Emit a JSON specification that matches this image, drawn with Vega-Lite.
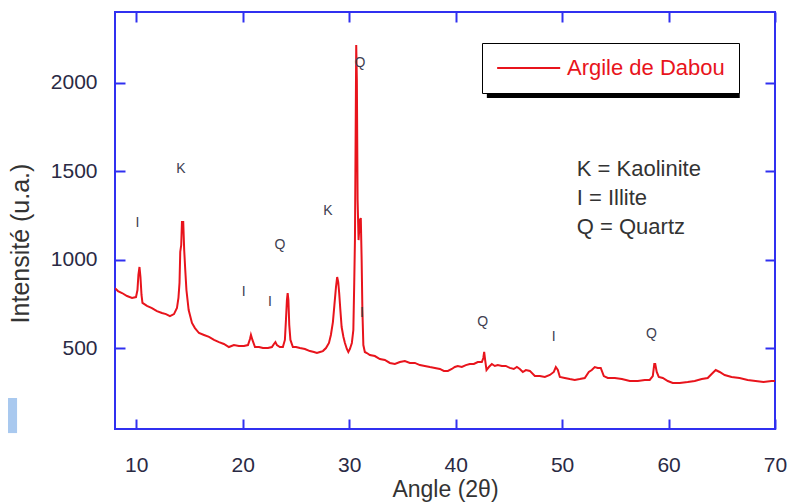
{
  "$schema": "https://vega.github.io/schema/vega-lite/v6.json",
  "autosize": "none",
  "width": 660,
  "height": 417,
  "padding": {"left": 115, "top": 12, "right": 14, "bottom": 75},
  "background": "white",
  "config": {
    "view": {"stroke": "#3030f0", "strokeWidth": 2},
    "font": "Liberation Sans",
    "axis": {
      "grid": false,
      "ticks": true,
      "domain": false,
      "offset": -10,
      "tickColor": "#3030f0",
      "tickWidth": 2,
      "tickSize": 10,
      "zindex": 1,
      "labelFont": "Liberation Sans",
      "labelFontSize": 21,
      "labelColor": "#2a2a44",
      "titleFont": "Liberation Sans",
      "titleFontSize": 23,
      "titleFontWeight": "normal",
      "titleColor": "#333333"
    }
  },
  "datasets": {
    "xrd": [
      {"a": 8.0, "i": 840}, {"a": 8.28, "i": 824}, {"a": 8.66, "i": 813}, {"a": 9.13, "i": 796},
      {"a": 9.6, "i": 785}, {"a": 9.97, "i": 790}, {"a": 10.11, "i": 830}, {"a": 10.2, "i": 915},
      {"a": 10.3, "i": 960}, {"a": 10.39, "i": 905}, {"a": 10.49, "i": 802}, {"a": 10.58, "i": 757},
      {"a": 11.0, "i": 740}, {"a": 11.47, "i": 728}, {"a": 11.94, "i": 711}, {"a": 12.41, "i": 700},
      {"a": 12.79, "i": 694}, {"a": 13.16, "i": 683}, {"a": 13.54, "i": 694}, {"a": 13.82, "i": 728},
      {"a": 13.96, "i": 785}, {"a": 14.06, "i": 870}, {"a": 14.13, "i": 1045}, {"a": 14.22, "i": 1084},
      {"a": 14.29, "i": 1214}, {"a": 14.41, "i": 1214}, {"a": 14.5, "i": 1056}, {"a": 14.6, "i": 943},
      {"a": 14.71, "i": 830}, {"a": 14.92, "i": 717}, {"a": 15.23, "i": 644}, {"a": 15.51, "i": 615},
      {"a": 15.89, "i": 587}, {"a": 16.36, "i": 576}, {"a": 16.83, "i": 565}, {"a": 17.3, "i": 548},
      {"a": 17.77, "i": 536}, {"a": 18.23, "i": 525}, {"a": 18.7, "i": 508}, {"a": 19.17, "i": 519},
      {"a": 19.64, "i": 514}, {"a": 20.11, "i": 514}, {"a": 20.49, "i": 519}, {"a": 20.68, "i": 553},
      {"a": 20.77, "i": 576}, {"a": 20.91, "i": 548}, {"a": 21.15, "i": 508}, {"a": 21.52, "i": 508},
      {"a": 21.9, "i": 502}, {"a": 22.37, "i": 502}, {"a": 22.74, "i": 508}, {"a": 22.93, "i": 525},
      {"a": 23.07, "i": 536}, {"a": 23.21, "i": 519}, {"a": 23.49, "i": 508}, {"a": 23.77, "i": 508},
      {"a": 23.96, "i": 548}, {"a": 24.06, "i": 661}, {"a": 24.15, "i": 773}, {"a": 24.22, "i": 813},
      {"a": 24.29, "i": 773}, {"a": 24.37, "i": 632}, {"a": 24.48, "i": 548}, {"a": 24.71, "i": 508},
      {"a": 25.0, "i": 508}, {"a": 25.37, "i": 502}, {"a": 25.84, "i": 497}, {"a": 26.31, "i": 485},
      {"a": 26.69, "i": 480}, {"a": 26.97, "i": 474}, {"a": 27.25, "i": 480}, {"a": 27.53, "i": 485},
      {"a": 27.82, "i": 502}, {"a": 28.1, "i": 531}, {"a": 28.28, "i": 576}, {"a": 28.47, "i": 649},
      {"a": 28.61, "i": 745}, {"a": 28.76, "i": 847}, {"a": 28.87, "i": 903}, {"a": 28.97, "i": 875},
      {"a": 29.06, "i": 813}, {"a": 29.17, "i": 717}, {"a": 29.29, "i": 621}, {"a": 29.46, "i": 565},
      {"a": 29.6, "i": 531}, {"a": 29.78, "i": 497}, {"a": 29.92, "i": 480}, {"a": 30.07, "i": 497},
      {"a": 30.25, "i": 531}, {"a": 30.39, "i": 604}, {"a": 30.47, "i": 858}, {"a": 30.54, "i": 1112},
      {"a": 30.59, "i": 1564}, {"a": 30.66, "i": 2213}, {"a": 30.72, "i": 2016}, {"a": 30.79, "i": 1338},
      {"a": 30.88, "i": 1112}, {"a": 31.0, "i": 1225}, {"a": 31.09, "i": 1236}, {"a": 31.17, "i": 1000},
      {"a": 31.24, "i": 717}, {"a": 31.33, "i": 519}, {"a": 31.47, "i": 480}, {"a": 31.66, "i": 474},
      {"a": 31.94, "i": 463}, {"a": 32.41, "i": 457}, {"a": 32.88, "i": 440}, {"a": 33.35, "i": 435},
      {"a": 33.82, "i": 418}, {"a": 34.29, "i": 412}, {"a": 34.76, "i": 423}, {"a": 35.23, "i": 429},
      {"a": 35.7, "i": 418}, {"a": 36.17, "i": 418}, {"a": 36.64, "i": 406}, {"a": 37.1, "i": 401},
      {"a": 37.58, "i": 395}, {"a": 38.05, "i": 390}, {"a": 38.52, "i": 384}, {"a": 38.89, "i": 373},
      {"a": 39.27, "i": 373}, {"a": 39.64, "i": 384}, {"a": 39.92, "i": 395}, {"a": 40.2, "i": 401},
      {"a": 40.58, "i": 395}, {"a": 40.96, "i": 406}, {"a": 41.33, "i": 412}, {"a": 41.71, "i": 412},
      {"a": 42.08, "i": 423}, {"a": 42.46, "i": 423}, {"a": 42.6, "i": 446}, {"a": 42.68, "i": 480},
      {"a": 42.77, "i": 435}, {"a": 42.9, "i": 378}, {"a": 43.12, "i": 395}, {"a": 43.4, "i": 412},
      {"a": 43.68, "i": 401}, {"a": 43.96, "i": 406}, {"a": 44.34, "i": 401}, {"a": 44.71, "i": 401},
      {"a": 45.09, "i": 390}, {"a": 45.46, "i": 384}, {"a": 45.75, "i": 395}, {"a": 46.03, "i": 384},
      {"a": 46.31, "i": 367}, {"a": 46.6, "i": 378}, {"a": 46.97, "i": 373}, {"a": 47.44, "i": 344},
      {"a": 47.91, "i": 344}, {"a": 48.38, "i": 339}, {"a": 48.85, "i": 350}, {"a": 49.22, "i": 367},
      {"a": 49.41, "i": 395}, {"a": 49.6, "i": 378}, {"a": 49.79, "i": 339}, {"a": 50.25, "i": 333},
      {"a": 50.72, "i": 327}, {"a": 51.19, "i": 322}, {"a": 51.66, "i": 327}, {"a": 52.13, "i": 333},
      {"a": 52.51, "i": 367}, {"a": 52.79, "i": 378}, {"a": 53.07, "i": 395}, {"a": 53.35, "i": 390},
      {"a": 53.63, "i": 390}, {"a": 53.92, "i": 344}, {"a": 54.29, "i": 333}, {"a": 54.95, "i": 333},
      {"a": 55.61, "i": 327}, {"a": 56.36, "i": 316}, {"a": 57.11, "i": 316}, {"a": 57.77, "i": 322},
      {"a": 58.23, "i": 322}, {"a": 58.52, "i": 344}, {"a": 58.66, "i": 412}, {"a": 58.75, "i": 412},
      {"a": 58.89, "i": 367}, {"a": 59.08, "i": 339}, {"a": 59.46, "i": 333}, {"a": 59.93, "i": 316},
      {"a": 60.39, "i": 305}, {"a": 61.05, "i": 305}, {"a": 61.8, "i": 310}, {"a": 62.46, "i": 316},
      {"a": 63.12, "i": 327}, {"a": 63.68, "i": 333}, {"a": 64.05, "i": 356}, {"a": 64.43, "i": 378},
      {"a": 64.8, "i": 367}, {"a": 65.27, "i": 350}, {"a": 65.92, "i": 339}, {"a": 66.67, "i": 333},
      {"a": 67.43, "i": 322}, {"a": 68.17, "i": 316}, {"a": 68.92, "i": 310}, {"a": 69.67, "i": 316},
      {"a": 70.0, "i": 316}
    ],
    "peaks": [
      {"a": 10.1, "i": 1208, "t": "I"},
      {"a": 14.2, "i": 1513, "t": "K"},
      {"a": 31.0, "i": 2112, "t": "Q"},
      {"a": 28.0, "i": 1276, "t": "K"},
      {"a": 23.5, "i": 1084, "t": "Q"},
      {"a": 20.1, "i": 819, "t": "I"},
      {"a": 22.55, "i": 762, "t": "I"},
      {"a": 31.2, "i": 700, "t": "I"},
      {"a": 42.55, "i": 649, "t": "Q"},
      {"a": 49.2, "i": 565, "t": "I"},
      {"a": 58.4, "i": 581, "t": "Q"}
    ],
    "key": [
      {"a": 51.38, "i": 1513, "t": "K = Kaolinite"},
      {"a": 51.38, "i": 1349, "t": "I = Illite"},
      {"a": 51.38, "i": 1185, "t": "Q = Quartz"}
    ],
    "shadow": [
      {"a1": 42.93, "a2": 66.69, "i1": 1914, "i2": 2196}
    ],
    "smudge": [
      {"a1": -2.05, "a2": -1.2, "i1": 22, "i2": 220}
    ]
  },
  "layer": [
    {
      "data": {"name": "shadow"},
      "mark": {"type": "rect", "fill": "black"},
      "encoding": {
        "x": {"field": "a1", "type": "quantitative", "scale": {"domain": [8, 70], "nice": false, "zero": false},
              "axis": {"orient": "top", "labels": false, "title": null, "values": [10, 20, 30, 40, 50, 60, 70]}},
        "x2": {"field": "a2"},
        "y": {"field": "i1", "type": "quantitative", "scale": {"domain": [45, 2400], "nice": false, "zero": false},
              "axis": {"orient": "right", "labels": false, "title": null, "values": [500, 1000, 1500, 2000]}},
        "y2": {"field": "i2"}
      }
    },
    {
      "data": {"name": "smudge"},
      "mark": {"type": "rect", "fill": "#a9c9ef", "clip": false},
      "encoding": {
        "x": {"field": "a1", "type": "quantitative", "axis": null},
        "x2": {"field": "a2"},
        "y": {"field": "i1", "type": "quantitative", "axis": null},
        "y2": {"field": "i2"}
      }
    },
    {
      "data": {"name": "xrd"},
      "transform": [{"calculate": "'Argile de Dabou'", "as": "s"}],
      "mark": {"type": "line", "strokeWidth": 2, "clip": true, "strokeJoin": "miter"},
      "encoding": {
        "x": {"field": "a", "type": "quantitative",
              "axis": {"orient": "bottom", "title": "Angle (2θ)", "values": [10, 20, 30, 40, 50, 60, 70], "labelPadding": 25, "titlePadding": 3, "labelFlush": false}},
        "y": {"field": "i", "type": "quantitative",
              "axis": {"orient": "left", "title": "Intensité (u.a.)", "titleFontSize": 25, "format": "d", "values": [500, 1000, 1500, 2000], "labelPadding": 18, "titleX": -92, "titleY": 231}},
        "color": {"field": "s", "type": "nominal",
                  "scale": {"domain": ["Argile de Dabou"], "range": ["#e8141c"]},
                  "legend": {"orient": "none", "legendX": 367, "legendY": 31, "title": null,
                             "strokeColor": "black", "fillColor": "white", "padding": 14,
                             "symbolType": "M-1,0H5.4", "symbolSize": 388, "symbolStrokeWidth": 2,
                             "labelFont": "Liberation Sans", "labelFontSize": 22, "labelColor": "#e8141c", "labelOffset": 49}}
      }
    },
    {
      "data": {"name": "peaks"},
      "mark": {"type": "text", "fontSize": 14, "color": "#404050", "align": "center", "baseline": "middle"},
      "encoding": {
        "x": {"field": "a", "type": "quantitative", "axis": null},
        "y": {"field": "i", "type": "quantitative", "axis": null},
        "text": {"field": "t"}
      }
    },
    {
      "data": {"name": "key"},
      "mark": {"type": "text", "fontSize": 22, "color": "#333333", "align": "left", "baseline": "middle"},
      "encoding": {
        "x": {"field": "a", "type": "quantitative", "axis": null},
        "y": {"field": "i", "type": "quantitative", "axis": null},
        "text": {"field": "t"}
      }
    }
  ],
  "resolve": {"axis": {"x": "independent", "y": "independent"}}
}
